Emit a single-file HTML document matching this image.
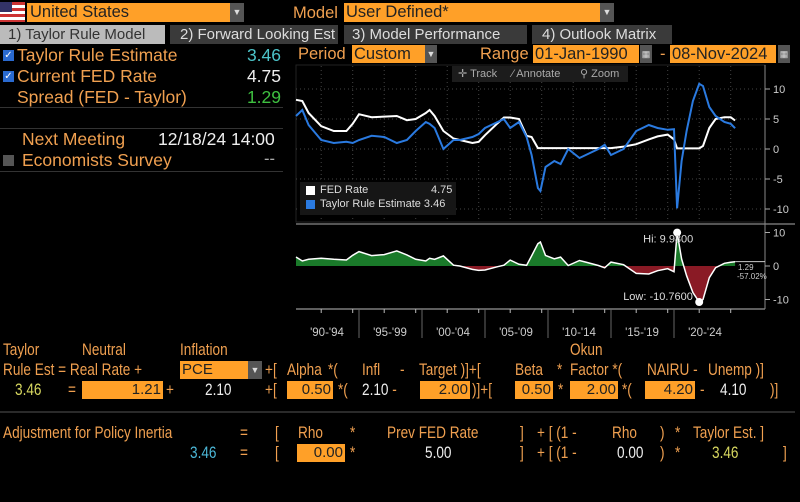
<!DOCTYPE html>
<html><head><meta charset="utf-8">
<style>
*{margin:0;padding:0;box-sizing:border-box}
body{width:800px;height:502px;background:#000;position:relative;overflow:hidden;font-family:"Liberation Sans",sans-serif;color:#f0a050}
.a{position:absolute;white-space:nowrap}
.or{background:#ffa028;color:#222}
.dd{background:#555;color:#ddd;font-size:9px;text-align:center}
.t{font-size:16.5px}
.f{font-size:17px;color:#f0a050;transform:scaleX(.8);transform-origin:0 0;line-height:19px}
.w{color:#eee}
.box{background:#ffa028;color:#222;height:18px;font-size:15px;line-height:18px}
.box span{display:block;text-align:right;padding-right:2px}
</style></head><body>
<div class="a" style="left:0;top:2px;width:25px;height:20px;background:repeating-linear-gradient(#c33 0 3px,#fff 3px 6px)"><div style="width:12px;height:10px;background:#336"></div></div>
<div class="a or t" style="left:27px;top:3px;width:203px;height:19px;padding-left:3px;line-height:19px">United States</div>
<div class="a dd" style="left:230px;top:3px;width:14px;height:19px;line-height:19px">▼</div>
<div class="a t" style="left:293px;top:4px">Model</div>
<div class="a or t" style="left:344px;top:3px;width:256px;height:19px;padding-left:2px;line-height:19px">User Defined*</div>
<div class="a dd" style="left:600px;top:3px;width:14px;height:19px;line-height:19px">▼</div>

<div class="a" style="left:0;top:25px;width:165px;height:19px;background:#bbb;color:#333;padding-left:8px;line-height:19px;font-size:15px">1) Taylor Rule Model</div>
<div class="a" style="left:170px;top:25px;width:168px;height:19px;background:#3a3a3a;color:#ddd;padding-left:10px;line-height:19px;font-size:15px">2) Forward Looking Est</div>
<div class="a" style="left:344px;top:25px;width:183px;height:19px;background:#3a3a3a;color:#ddd;padding-left:8px;line-height:19px;font-size:15px">3) Model Performance</div>
<div class="a" style="left:532px;top:25px;width:140px;height:19px;background:#3a3a3a;color:#ddd;padding-left:10px;line-height:19px;font-size:15px">4) Outlook Matrix</div>

<div class="a" style="left:3px;top:50px;width:11px;height:11px;background:#2a6ad0;color:#fff;font-size:10px;line-height:11px;text-align:center">✓</div>
<div class="a t" style="left:17px;top:45px;font-size:17.5px">Taylor Rule Estimate</div>
<div class="a t" style="left:240px;top:45px;width:41px;text-align:right;color:#4cc3c8;font-size:17.5px">3.46</div>
<div class="a" style="left:3px;top:71px;width:11px;height:11px;background:#2a6ad0;color:#fff;font-size:10px;line-height:11px;text-align:center">✓</div>
<div class="a t" style="left:17px;top:66px;font-size:17.5px">Current FED Rate</div>
<div class="a t w" style="left:240px;top:66px;width:41px;text-align:right;font-size:17.5px">4.75</div>
<div class="a t" style="left:17px;top:87px;font-size:17.5px">Spread (FED - Taylor)</div>
<div class="a t" style="left:240px;top:87px;width:41px;text-align:right;color:#3ec040;font-size:17.5px">1.29</div>
<div class="a" style="left:0;top:107px;width:283px;height:1px;background:#333"></div>
<div class="a" style="left:0;top:128px;width:283px;height:1px;background:#333"></div>
<div class="a t" style="left:22px;top:129px;font-size:17.5px">Next Meeting</div>
<div class="a t w" style="left:158px;top:129px;font-size:17.5px">12/18/24 14:00</div>
<div class="a" style="left:3px;top:155px;width:11px;height:11px;background:#555"></div>
<div class="a t" style="left:22px;top:150px;font-size:17.5px">Economists Survey</div>
<div class="a t" style="left:264px;top:150px;color:#aaa">--</div>
<div class="a" style="left:0;top:171px;width:283px;height:1px;background:#333"></div>

<div class="a t" style="left:298px;top:45px">Period</div>
<div class="a or t" style="left:352px;top:45px;width:73px;height:18px;padding-left:2px;line-height:18px">Custom</div>
<div class="a dd" style="left:425px;top:45px;width:12px;height:18px;line-height:18px">▼</div>
<div class="a t" style="left:480px;top:45px">Range</div>
<div class="a or t" style="left:533px;top:45px;width:106px;height:18px;padding-left:2px;line-height:18px">01-Jan-1990</div>
<div class="a dd" style="left:640px;top:45px;width:12px;height:18px;line-height:18px">▦</div>
<div class="a t" style="left:660px;top:45px">-</div>
<div class="a or t" style="left:670px;top:45px;width:106px;height:18px;padding-left:2px;line-height:18px">08-Nov-2024</div>
<div class="a dd" style="left:778px;top:45px;width:12px;height:18px;line-height:18px">▦</div>

<svg class="a" style="left:0;top:0" width="800" height="502" id="chart"></svg>

<div class="a" style="left:452px;top:66px;width:176px;height:16px;background:#1c1c1c;font-size:11px;color:#aaa;line-height:16px">
<span class="a" style="left:6px">✛ Track</span>
<span class="a" style="left:60px">⁄ Annotate</span>
<span class="a" style="left:128px">⚲ Zoom</span></div>

<div class="a" style="left:300px;top:182px;width:156px;height:33px;background:#161616;font-size:11px;color:#ddd">
<div class="a" style="left:6px;top:4px;width:9px;height:9px;background:#fff"></div><span class="a" style="left:20px;top:2px">FED Rate</span><span class="a" style="left:131px;top:2px">4.75</span>
<div class="a" style="left:6px;top:18px;width:9px;height:9px;background:#2a7ae0"></div><span class="a" style="left:20px;top:16px">Taylor Rule Estimate 3.46</span></div>

<div class="a f" style="left:3px;top:340px">Taylor</div>
<div class="a f" style="left:82px;top:340px">Neutral</div>
<div class="a f" style="left:180px;top:340px">Inflation</div>
<div class="a f" style="left:570px;top:340px">Okun</div>
<div class="a f" style="left:3px;top:360px">Rule Est = Real Rate +</div>
<div class="a box" style="left:180px;top:361px;width:68px;padding-left:2px">PCE</div>
<div class="a dd" style="left:248px;top:361px;width:14px;height:18px;line-height:18px">▼</div>
<div class="a f" style="left:265px;top:360px">+[</div>
<div class="a f" style="left:287px;top:360px">Alpha</div>
<div class="a f" style="left:328px;top:360px">*(</div>
<div class="a f" style="left:362px;top:360px">Infl</div>
<div class="a f" style="left:400px;top:360px">-</div>
<div class="a f" style="left:419px;top:360px">Target )]+[</div>
<div class="a f" style="left:515px;top:360px">Beta</div>
<div class="a f" style="left:557px;top:360px">*</div>
<div class="a f" style="left:570px;top:360px">Factor *(</div>
<div class="a f" style="left:647px;top:360px">NAIRU -</div>
<div class="a f" style="left:708px;top:360px">Unemp )]</div>
<div class="a f" style="left:15px;top:380px;color:#d8d860">3.46</div>
<div class="a f" style="left:68px;top:380px">=</div>
<div class="a box" style="left:82px;top:381px;width:81px;text-align:right;padding-right:2px">1.21</div>
<div class="a f" style="left:166px;top:380px">+</div>
<div class="a f w" style="left:205px;top:380px">2.10</div>
<div class="a f" style="left:265px;top:380px">+[</div>
<div class="a box" style="left:287px;top:381px;width:46px;text-align:right;padding-right:2px">0.50</div>
<div class="a f" style="left:338px;top:380px">*(</div>
<div class="a f w" style="left:362px;top:380px">2.10 <span style="color:#f0a050">-</span></div>
<div class="a box" style="left:420px;top:381px;width:50px;text-align:right;padding-right:2px">2.00</div>
<div class="a f" style="left:472px;top:380px">)]+[</div>
<div class="a box" style="left:515px;top:381px;width:38px;text-align:right;padding-right:2px">0.50</div>
<div class="a f" style="left:558px;top:380px">*</div>
<div class="a box" style="left:570px;top:381px;width:48px;text-align:right;padding-right:2px">2.00</div>
<div class="a f" style="left:622px;top:380px">*(</div>
<div class="a box" style="left:645px;top:381px;width:50px;text-align:right;padding-right:2px">4.20</div>
<div class="a f" style="left:700px;top:380px">-</div>
<div class="a f w" style="left:720px;top:380px">4.10</div>
<div class="a f" style="left:770px;top:380px">)]</div>
<div class="a" style="left:0;top:411px;width:795px;height:2px;background:#2a2a2a"></div>
<div class="a f" style="left:3px;top:423px">Adjustment for Policy Inertia</div>
<div class="a f" style="left:240px;top:423px">=</div>
<div class="a f" style="left:275px;top:423px">[</div>
<div class="a f" style="left:298px;top:423px">Rho</div>
<div class="a f" style="left:350px;top:423px">*</div>
<div class="a f" style="left:387px;top:423px">Prev FED Rate</div>
<div class="a f" style="left:520px;top:423px">]</div>
<div class="a f" style="left:537px;top:423px">+ [ (1 -</div>
<div class="a f" style="left:612px;top:423px">Rho</div>
<div class="a f" style="left:660px;top:423px">)</div>
<div class="a f" style="left:675px;top:423px">*</div>
<div class="a f" style="left:693px;top:423px">Taylor Est. ]</div>
<div class="a f" style="left:190px;top:443px;color:#4cb8d8">3.46</div>
<div class="a f" style="left:240px;top:443px">=</div>
<div class="a f" style="left:275px;top:443px">[</div>
<div class="a box" style="left:297px;top:444px;width:48px;text-align:right;padding-right:2px">0.00</div>
<div class="a f" style="left:350px;top:443px">*</div>
<div class="a f w" style="left:425px;top:443px">5.00</div>
<div class="a f" style="left:520px;top:443px">]</div>
<div class="a f" style="left:537px;top:443px">+ [ (1 -</div>
<div class="a f w" style="left:617px;top:443px">0.00</div>
<div class="a f" style="left:660px;top:443px">)</div>
<div class="a f" style="left:675px;top:443px">*</div>
<div class="a f" style="left:712px;top:443px;color:#d8d860">3.46</div>
<div class="a f" style="left:783px;top:443px">]</div>

<script>
const dates=[1990,1990.5,1991,1992,1993,1994,1994.5,1995,1996,1997,1998,1998.8,1999.5,2000.3,2000.6,2001,2001.7,2002.5,2003,2004,2004.5,2005,2006,2006.5,2007,2007.7,2008.3,2008.7,2009.2,2009.4,2009.8,2010.5,2011,2011.6,2012.5,2013,2014,2014.5,2015,2016,2017,2018,2018.7,2019.5,2020,2020.25,2020.6,2021,2021.5,2022,2022.3,2022.8,2023.3,2024,2024.5,2024.85];
const fedRate=[8.2,8,6,3.8,3,3,4.2,5.8,5.3,5.4,5.5,4.8,5,6,6.5,5.5,3,1.75,1.5,1,1.2,2.3,4.3,5.25,5.25,5,2.2,2,0.15,0.15,0.15,0.15,0.15,0.15,0.15,0.15,0.15,0.15,0.15,0.4,0.8,1.6,2.1,2.4,1.6,0.1,0.1,0.1,0.1,0.1,0.5,3.5,5,5.3,5.3,4.75];
const taylorEst=[5.5,6.5,4,1.5,1,1.2,1,1.5,2.2,2,1,1.5,3,4.5,4.2,3.5,0,1.5,1.5,2,2.5,3.5,4.5,5,3.5,4.5,2,-1,-6.5,-7,-3,-2,-2.5,0,-1.5,-1,0,0.7,-1,0,3,4,3.5,3.2,3.3,-9.88,-2,3,8,10.86,10.5,7,5.5,4.5,4.2,3.46];
const topTicks=[10,5,0,-5,-10];
const botTicks=[10,0,-10];
const periodLabels=["'90-'94","'95-'99","'00-'04","'05-'09","'10-'14","'15-'19","'20-'24"];
const periodStarts=[1990,1995,2000,2005,2010,2015,2020];

const NS="http://www.w3.org/2000/svg",svg=document.getElementById('chart');
const X=y=>296+(y-1990)*12.6;
const Yt=v=>149-v*6;
const Yb=v=>266-v*3.35;
function mk(t,a,p){const e=document.createElementNS(NS,t);for(const k in a)e.setAttribute(k,a[k]);(p||svg).appendChild(e);return e;}
mk('rect',{x:296,y:65,width:469,height:157,fill:'none',stroke:'#222'});
mk('line',{x1:296,y1:224,x2:795,y2:224,stroke:'#555','stroke-width':2});
mk('line',{x1:296,y1:309,x2:765,y2:309,stroke:'#bbb'});
mk('line',{x1:765,y1:65,x2:765,y2:309,stroke:'#888'});
for(let yr=1992;yr<2025;yr+=2.5){const x=X(yr);
 mk('line',{x1:x,y1:66,x2:x,y2:222,stroke:'#444','stroke-dasharray':'1,3'});
 mk('line',{x1:x,y1:309,x2:x,y2:313,stroke:'#bbb'});}
topTicks.forEach(v=>{mk('line',{x1:296,y1:Yt(v),x2:765,y2:Yt(v),stroke:'#444','stroke-dasharray':'1,3'});
 mk('line',{x1:765,y1:Yt(v),x2:770,y2:Yt(v),stroke:'#aaa'});
 const t=mk('text',{x:773,y:Yt(v)+4,fill:'#ccc','font-size':11,'font-family':'Liberation Sans, sans-serif'});t.textContent=v;
 });
botTicks.forEach(v=>{mk('line',{x1:765,y1:Yb(v),x2:770,y2:Yb(v),stroke:'#aaa'});
 const t=mk('text',{x:773,y:Yb(v)+4,fill:'#ccc','font-size':11,'font-family':'Liberation Sans, sans-serif'});t.textContent=v;
 });
periodStarts.forEach((s,i)=>{if(i>0)mk('line',{x1:X(s),y1:309,x2:X(s),y2:338,stroke:'#666'});
 const t=mk('text',{x:X(s)+31,y:336,fill:'#ccc','font-size':11.5,'text-anchor':'middle','font-family':'Liberation Sans, sans-serif'});t.textContent=periodLabels[i];
 });
const pts=(arr,Y)=>arr.map((v,i)=>X(dates[i]).toFixed(1)+','+Y(v).toFixed(1)).join(' ');
const fl=mk('polyline',{points:pts(fedRate,Yt),fill:'none',stroke:'#fff','stroke-width':2});

const tl=mk('polyline',{points:pts(taylorEst,Yt),fill:'none',stroke:'#2a7ae0','stroke-width':2});

const spread=fedRate.map((f,i)=>f-taylorEst[i]);
const defs=mk('defs',{});
const c1=mk('clipPath',{id:'up'},defs);mk('rect',{x:290,y:200,width:480,height:Yb(0)-200},c1);
const c2=mk('clipPath',{id:'dn'},defs);mk('rect',{x:290,y:Yb(0),width:480,height:60},c2);
const area='M'+X(dates[0])+','+Yb(0)+' L'+pts(spread,Yb).split(' ').join(' L')+' L'+X(dates[dates.length-1])+','+Yb(0)+'Z';
const ga=mk('path',{d:area,fill:'#1a7a2a','clip-path':'url(#up)'});

const ra=mk('path',{d:area,fill:'#8a1a25','clip-path':'url(#dn)'});

const sl=mk('polyline',{points:pts(spread,Yb),fill:'none',stroke:'#fff','stroke-width':1.5});

mk('line',{x1:X(dates[dates.length-1]),y1:Yb(spread[spread.length-1]),x2:765,y2:Yb(spread[spread.length-1]),stroke:'#ccc'});
let hi=0,lo=0;spread.forEach((v,i)=>{if(v>spread[hi])hi=i;if(v<spread[lo])lo=i;});
mk('circle',{cx:X(dates[hi]),cy:Yb(spread[hi]),r:4,fill:'#fff'});
mk('circle',{cx:X(dates[lo]),cy:Yb(spread[lo]),r:4,fill:'#fff'});
let t=mk('text',{x:X(dates[hi])-34,y:Yb(spread[hi])+10,fill:'#ddd','font-size':11,'font-family':'Liberation Sans, sans-serif'});t.textContent='Hi: '+spread[hi].toFixed(4);

t=mk('text',{x:X(dates[lo])-76,y:Yb(spread[lo])-2,fill:'#ddd','font-size':11,'font-family':'Liberation Sans, sans-serif'});t.textContent='Low: '+spread[lo].toFixed(4);

t=mk('text',{x:738,y:270,fill:'#ccc','font-size':8,'font-family':'Liberation Sans, sans-serif'});t.textContent=spread[spread.length-1].toFixed(2);

t=mk('text',{x:737,y:279,fill:'#ccc','font-size':8,'font-family':'Liberation Sans, sans-serif'});t.textContent='-57.02%';

</script>
</body></html>
